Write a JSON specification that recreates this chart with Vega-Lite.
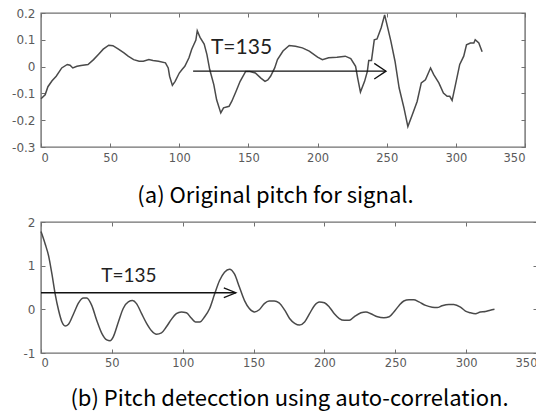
{
  "$schema": "https://vega.github.io/schema/vega-lite/v6.json",
  "background": "white",
  "padding": {"left": 10, "top": 6, "right": 0, "bottom": 2},
  "align": "none",
  "spacing": 7,
  "config": {
    "view": {"stroke": "#707070", "strokeWidth": 1.4},
    "axis": {"grid": false, "domain": false, "labelFont": "DejaVu Sans", "labelFontSize": 12, "labelColor": "#5a5a5a", "tickColor": "#707070", "tickSize": -4, "tickWidth": 1}
  },
  "datasets": {
    "sig": [
      {"x":0,"y":-0.12},{"x":3,"y":-0.105},{"x":5,"y":-0.075},{"x":8,"y":-0.053},{"x":11,"y":-0.036},{"x":15,"y":-0.005},{"x":19,"y":0.008},{"x":21,"y":0.005},{"x":23,"y":-0.005},{"x":26,"y":0.001},{"x":29,"y":0.004},{"x":34,"y":0.008},{"x":38,"y":0.026},{"x":42,"y":0.048},{"x":45,"y":0.065},{"x":49,"y":0.08},{"x":52,"y":0.078},{"x":56,"y":0.065},{"x":60,"y":0.051},{"x":63,"y":0.039},{"x":67,"y":0.026},{"x":71,"y":0.02},{"x":74,"y":0.02},{"x":78,"y":0.026},{"x":81,"y":0.023},{"x":85,"y":0.02},{"x":90,"y":0.014},{"x":92,"y":-0.005},{"x":93,"y":-0.036},{"x":95,"y":-0.07},{"x":97,"y":-0.055},{"x":100,"y":-0.024},{"x":102,"y":-0.011},{"x":104,"y":0.001},{"x":107,"y":0.033},{"x":109,"y":0.065},{"x":112,"y":0.099},{"x":113,"y":0.134},{"x":115,"y":0.109},{"x":118,"y":0.084},{"x":120,"y":0.045},{"x":122,"y":-0.011},{"x":125,"y":-0.068},{"x":127,"y":-0.124},{"x":130,"y":-0.173},{"x":132,"y":-0.154},{"x":136,"y":-0.148},{"x":138,"y":-0.129},{"x":141,"y":-0.093},{"x":144,"y":-0.055},{"x":148,"y":-0.018},{"x":151,"y":-0.018},{"x":155,"y":-0.024},{"x":159,"y":-0.043},{"x":162,"y":-0.055},{"x":164,"y":-0.05},{"x":166,"y":-0.036},{"x":169,"y":-0.005},{"x":171,"y":0.026},{"x":175,"y":0.058},{"x":179.5,"y":0.079},{"x":184,"y":0.076},{"x":189,"y":0.07},{"x":194,"y":0.058},{"x":200,"y":0.035},{"x":203.5,"y":0.026},{"x":208,"y":0.033},{"x":214,"y":0.035},{"x":220,"y":0.039},{"x":224,"y":0.03},{"x":227.5,"y":0.001},{"x":229,"y":-0.043},{"x":231,"y":-0.095},{"x":234,"y":-0.055},{"x":236,"y":-0.018},{"x":237,"y":0.023},{"x":239,"y":0.023},{"x":241,"y":0.1},{"x":243,"y":0.103},{"x":246,"y":0.145},{"x":248.5,"y":0.193},{"x":251,"y":0.139},{"x":253,"y":0.095},{"x":256,"y":0.02},{"x":259,"y":-0.08},{"x":262.5,"y":-0.155},{"x":265.3,"y":-0.224},{"x":268.5,"y":-0.18},{"x":272,"y":-0.13},{"x":275,"y":-0.061},{"x":278,"y":-0.049},{"x":281.7,"y":-0.005},{"x":284,"y":-0.03},{"x":287.7,"y":-0.061},{"x":291,"y":-0.099},{"x":293.7,"y":-0.111},{"x":295.6,"y":-0.111},{"x":297.3,"y":-0.126},{"x":299.7,"y":-0.068},{"x":302.8,"y":0.008},{"x":305.7,"y":0.039},{"x":307.7,"y":0.081},{"x":310.5,"y":0.088},{"x":313,"y":0.088},{"x":314,"y":0.1},{"x":316.6,"y":0.088},{"x":319,"y":0.055}
    ],
    "acf": [
      {"x":0,"y":1.78},{"x":3,"y":1.49},{"x":5.4,"y":1.22},{"x":7.7,"y":0.81},{"x":10,"y":0.35},{"x":12.4,"y":-0.02},{"x":14.8,"y":-0.29},{"x":17,"y":-0.38},{"x":19.4,"y":-0.34},{"x":23,"y":-0.1},{"x":26.5,"y":0.15},{"x":30,"y":0.26},{"x":32.3,"y":0.26},{"x":35.8,"y":0.09},{"x":39.3,"y":-0.25},{"x":42.9,"y":-0.55},{"x":46.4,"y":-0.7},{"x":48.7,"y":-0.72},{"x":51,"y":-0.63},{"x":54.6,"y":-0.29},{"x":58,"y":0.02},{"x":61.6,"y":0.17},{"x":64.6,"y":0.2},{"x":67.4,"y":0.13},{"x":71,"y":-0.1},{"x":74.5,"y":-0.32},{"x":78,"y":-0.49},{"x":81.5,"y":-0.57},{"x":85,"y":-0.54},{"x":88.5,"y":-0.4},{"x":92,"y":-0.23},{"x":95.5,"y":-0.1},{"x":99,"y":-0.06},{"x":102.6,"y":-0.08},{"x":106,"y":-0.2},{"x":109,"y":-0.29},{"x":112,"y":-0.29},{"x":115.5,"y":-0.17},{"x":119,"y":0.02},{"x":122.5,"y":0.35},{"x":126,"y":0.66},{"x":129.5,"y":0.85},{"x":133,"y":0.92},{"x":136.5,"y":0.81},{"x":140,"y":0.51},{"x":143.6,"y":0.2},{"x":147,"y":0.02},{"x":150.6,"y":-0.06},{"x":154,"y":-0.01},{"x":157.6,"y":0.13},{"x":161,"y":0.19},{"x":164.6,"y":0.19},{"x":168,"y":0.15},{"x":172,"y":-0.02},{"x":175.4,"y":-0.21},{"x":179,"y":-0.32},{"x":182.4,"y":-0.36},{"x":186,"y":-0.29},{"x":189.5,"y":-0.1},{"x":193,"y":0.09},{"x":196.5,"y":0.17},{"x":200,"y":0.15},{"x":203.5,"y":0.05},{"x":207,"y":-0.1},{"x":210.5,"y":-0.21},{"x":214,"y":-0.25},{"x":217.6,"y":-0.25},{"x":221,"y":-0.17},{"x":225.8,"y":-0.08},{"x":229.3,"y":-0.06},{"x":232.8,"y":-0.1},{"x":237.5,"y":-0.17},{"x":242,"y":-0.19},{"x":245.7,"y":-0.17},{"x":249,"y":-0.06},{"x":252.7,"y":0.09},{"x":256,"y":0.19},{"x":259.7,"y":0.22},{"x":263,"y":0.22},{"x":266.7,"y":0.17},{"x":271.4,"y":0.09},{"x":276,"y":0.05},{"x":279.6,"y":0.04},{"x":283,"y":0.08},{"x":287.8,"y":0.11},{"x":291.3,"y":0.11},{"x":296,"y":0.05},{"x":299.5,"y":-0.04},{"x":303,"y":-0.08},{"x":306.6,"y":-0.1},{"x":310,"y":-0.06},{"x":313.6,"y":-0.05},{"x":317,"y":-0.02},{"x":320,"y":0}
    ],
    "arrowA": [
      {"seg":"shaft","o":0,"x":110,"y":-0.017},{"seg":"shaft","o":1,"x":249.5,"y":-0.017},
      {"seg":"head","o":0,"x":241,"y":0.012},{"seg":"head","o":1,"x":249.5,"y":-0.017},{"seg":"head","o":2,"x":241,"y":-0.046}
    ],
    "arrowB": [
      {"seg":"shaft","o":0,"x":0,"y":0.38},{"seg":"shaft","o":1,"x":137.5,"y":0.38},
      {"seg":"head","o":0,"x":129,"y":0.49},{"seg":"head","o":1,"x":137.5,"y":0.38},{"seg":"head","o":2,"x":129,"y":0.27}
    ],
    "labelA": [{"x":145,"y":0.07,"label":"T=135"}],
    "labelB": [{"x":62,"y":0.76,"label":"T=135"}]
  },
  "vconcat": [
    {
      "width": 484,
      "height": 134,
      "resolve": {"axis": {"x": "independent", "y": "independent"}},
      "layer": [
        {
          "data": {"name": "sig"},
          "mark": {"type": "line", "color": "#4a4a4a", "strokeWidth": 1.5},
          "encoding": {
            "x": {"field": "x", "type": "quantitative", "scale": {"domain": [0, 350], "nice": false, "zero": false},
              "axis": {"orient": "bottom", "values": [0,50,100,150,200,250,300,350], "labelFontSize": 11.5, "labelPadding": 9, "title": "(a) Original pitch for signal.", "titleFont": "Noto Sans CJK KR", "titleFontSize": 22, "titleFontWeight": "normal", "titleColor": "#000000", "titlePadding": 22, "titleX": 234}},
            "y": {"field": "y", "type": "quantitative", "scale": {"domain": [-0.3, 0.2], "nice": false, "zero": false},
              "axis": {"orient": "left", "values": [-0.3,-0.2,-0.1,0,0.1,0.2], "labelPadding": 10, "title": null,
                "labelExpr": "datum.value == 0 ? '0' : (datum.value < 0 ? '-' : '') + format(abs(datum.value), '.1f')"}}
          }
        },
        {
          "data": {"name": "arrowA"},
          "mark": {"type": "line", "color": "#111111", "strokeWidth": 1.3},
          "encoding": {
            "x": {"field": "x", "type": "quantitative", "axis": {"orient": "top", "values": [0,50,100,150,200,250,300,350], "labels": false, "title": null}},
            "y": {"field": "y", "type": "quantitative", "axis": {"orient": "right", "values": [-0.3,-0.2,-0.1,0,0.1,0.2], "labels": false, "title": null}},
            "detail": {"field": "seg"},
            "order": {"field": "o"}
          }
        },
        {
          "data": {"name": "labelA"},
          "mark": {"type": "text", "font": "Lato", "fontSize": 21, "color": "#222222"},
          "encoding": {
            "x": {"field": "x", "type": "quantitative", "axis": null},
            "y": {"field": "y", "type": "quantitative", "axis": null},
            "text": {"field": "label"}
          }
        }
      ]
    },
    {
      "width": 496,
      "height": 131,
      "resolve": {"axis": {"x": "independent", "y": "independent"}},
      "layer": [
        {
          "data": {"name": "acf"},
          "mark": {"type": "line", "color": "#4a4a4a", "strokeWidth": 1.5, "interpolate": "monotone"},
          "encoding": {
            "x": {"field": "x", "type": "quantitative", "scale": {"domain": [0, 350], "nice": false, "zero": false},
              "axis": {"orient": "bottom", "values": [0,50,100,150,200,250,300,350], "labelFontSize": 11.5, "labelPadding": 8, "title": "(b) Pitch detecction using auto-correlation.", "titleFont": "Noto Sans CJK KR", "titleFontSize": 22, "titleFontWeight": "normal", "titleColor": "#000000", "titlePadding": 20}},
            "y": {"field": "y", "type": "quantitative", "scale": {"domain": [-1, 2], "nice": false, "zero": false},
              "axis": {"orient": "left", "values": [-1,0,1,2], "labelPadding": 10, "title": null,
                "labelExpr": "(datum.value < 0 ? '-' : '') + abs(datum.value)"}}
          }
        },
        {
          "data": {"name": "arrowB"},
          "mark": {"type": "line", "color": "#111111", "strokeWidth": 1.3},
          "encoding": {
            "x": {"field": "x", "type": "quantitative", "axis": {"orient": "top", "values": [0,50,100,150,200,250,300,350], "labels": false, "title": null}},
            "y": {"field": "y", "type": "quantitative", "axis": {"orient": "right", "values": [-1,0,1,2], "labels": false, "title": null}},
            "detail": {"field": "seg"},
            "order": {"field": "o"}
          }
        },
        {
          "data": {"name": "labelB"},
          "mark": {"type": "text", "font": "Lato", "fontSize": 19, "color": "#222222"},
          "encoding": {
            "x": {"field": "x", "type": "quantitative", "axis": null},
            "y": {"field": "y", "type": "quantitative", "axis": null},
            "text": {"field": "label"}
          }
        }
      ]
    }
  ]
}
